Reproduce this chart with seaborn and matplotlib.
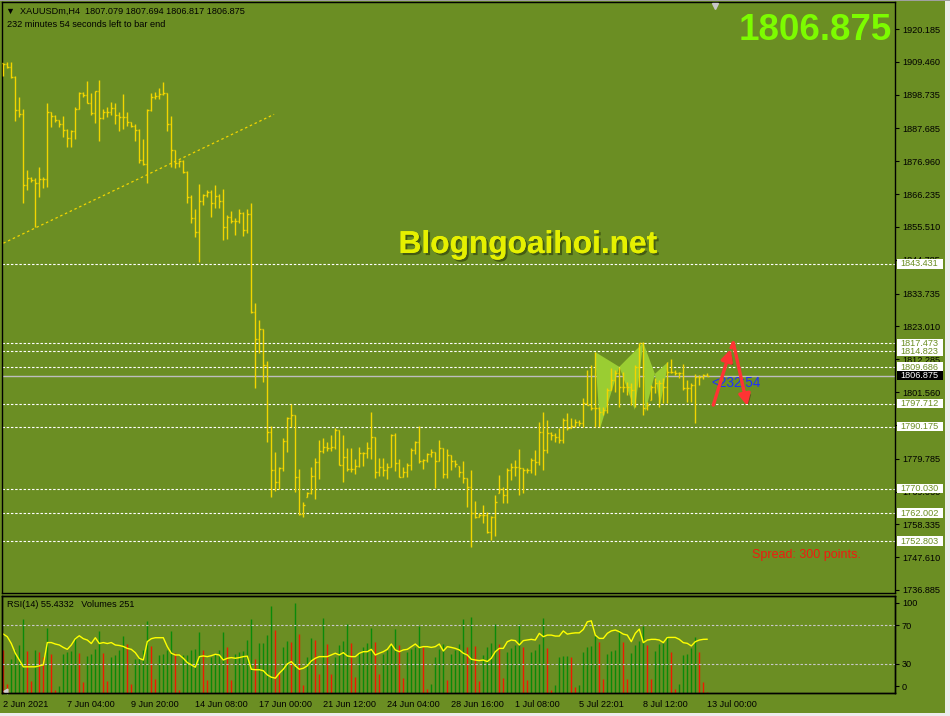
import matplotlib
matplotlib.use("Agg")
import matplotlib.pyplot as plt
import matplotlib.transforms as mtransforms
import matplotlib.patheffects as pe
from matplotlib.patches import Polygon, Rectangle, FancyArrowPatch
import numpy as np
import seaborn as sns

# ---- bar data (H4 XAUUSD), one entry per bar ----
highs = [
    1909.2, 1909.4, 1909.4, 1904.8, 1898.1, 1893.9, 1874.1, 1871.9, 1871.4, 1875.2,
    1871.9, 1895.9, 1893.2, 1892.1, 1890.5, 1891.8, 1887.4, 1887.2, 1894.6, 1899.7,
    1899.7, 1903.2, 1899.2, 1900.0, 1903.5, 1893.9, 1894.8, 1896.4, 1895.9, 1893.2,
    1898.9, 1893.2, 1889.9, 1889.1, 1887.6, 1884.1, 1893.9, 1899.4, 1899.7, 1901.0,
    1902.9, 1899.4, 1891.8, 1880.6, 1877.4, 1877.4, 1873.8, 1865.9, 1861.4, 1869.5,
    1866.3, 1867.6, 1867.6, 1869.2, 1866.3, 1867.9, 1859.4, 1860.7, 1858.4, 1861.4,
    1860.4, 1861.4, 1863.3, 1830.7, 1825.1, 1822.2, 1811.7, 1790.5, 1782.0, 1777.1,
    1786.5, 1793.4, 1797.7, 1794.1, 1776.4, 1765.6, 1768.9, 1777.1, 1780.0, 1785.9,
    1786.5, 1785.2, 1787.5, 1789.8, 1789.2, 1787.5, 1783.3, 1783.3, 1779.7, 1783.6,
    1782.0, 1785.2, 1795.0, 1786.9, 1780.0, 1780.0, 1778.4, 1787.9, 1788.2, 1779.7,
    1777.1, 1778.4, 1783.3, 1785.6, 1790.5, 1779.7, 1781.6, 1783.0, 1782.0, 1785.9,
    1783.3, 1783.0, 1781.0, 1779.4, 1777.4, 1779.0, 1773.5, 1776.1, 1766.0, 1762.0,
    1764.7, 1762.4, 1761.1, 1767.9, 1774.5, 1770.5, 1776.7, 1778.4, 1779.4, 1783.0,
    1776.7, 1776.7, 1780.0, 1782.6, 1791.8, 1795.0, 1792.4, 1788.5, 1788.2, 1789.8,
    1793.1, 1794.7, 1793.1, 1792.8, 1792.4, 1799.6, 1808.8, 1810.4, 1814.6, 1796.7,
    1796.7, 1802.9, 1809.4, 1808.8, 1809.7, 1808.1, 1804.9, 1804.5, 1810.4, 1817.6,
    1817.9, 1798.3, 1803.9, 1806.2, 1805.5, 1806.2, 1811.4, 1812.4, 1808.8, 1808.1,
    1810.7, 1805.5, 1804.5, 1807.5, 1807.1, 1807.5, 1807.694,
]
lows = [
    1904.8, 1907.3, 1904.1, 1890.2, 1891.5, 1863.2, 1867.6, 1870.3, 1855.6, 1865.4,
    1868.1, 1868.7, 1888.1, 1889.9, 1888.3, 1884.8, 1881.5, 1881.7, 1884.1, 1893.9,
    1898.1, 1895.9, 1892.1, 1889.6, 1883.7, 1890.7, 1891.5, 1892.1, 1889.1, 1887.0,
    1887.6, 1888.5, 1888.1, 1883.7, 1876.3, 1875.8, 1869.8, 1893.5, 1897.2, 1897.3,
    1898.6, 1887.0, 1875.0, 1874.7, 1875.2, 1873.0, 1863.3, 1856.8, 1852.2, 1844.1,
    1862.7, 1865.3, 1858.8, 1861.7, 1861.7, 1851.2, 1851.6, 1856.8, 1852.9, 1856.8,
    1852.6, 1853.5, 1827.4, 1802.9, 1814.3, 1804.9, 1785.2, 1767.3, 1769.2, 1769.9,
    1775.8, 1782.0, 1790.1, 1768.9, 1761.4, 1760.7, 1767.3, 1768.2, 1766.6, 1773.2,
    1781.6, 1782.3, 1782.3, 1783.0, 1777.7, 1772.2, 1775.8, 1775.4, 1774.8, 1777.1,
    1777.4, 1780.0, 1779.7, 1773.5, 1774.1, 1774.1, 1773.2, 1777.1, 1775.8, 1773.8,
    1773.8, 1773.8, 1776.1, 1781.3, 1778.4, 1776.4, 1778.7, 1780.3, 1770.2, 1779.0,
    1773.5, 1773.5, 1776.1, 1777.1, 1773.8, 1771.8, 1764.0, 1750.9, 1760.4, 1760.7,
    1758.8, 1755.5, 1753.2, 1754.5, 1768.6, 1765.3, 1765.3, 1772.8, 1774.1, 1767.9,
    1768.6, 1775.1, 1775.1, 1774.5, 1777.7, 1776.1, 1781.6, 1785.9, 1785.2, 1784.9,
    1784.9, 1789.2, 1789.8, 1790.1, 1790.5, 1790.1, 1797.3, 1795.7, 1790.1, 1790.1,
    1794.1, 1794.7, 1802.2, 1801.6, 1796.7, 1801.6, 1800.6, 1797.3, 1796.7, 1803.2,
    1794.1, 1795.7, 1799.0, 1801.3, 1796.7, 1798.0, 1798.0, 1807.8, 1807.1, 1806.2,
    1802.2, 1798.3, 1798.3, 1791.5, 1803.9, 1805.8, 1806.817,
]
closes = [
    1908.8, 1907.7, 1904.6, 1893.7, 1892.4, 1869.2, 1871.4, 1870.9, 1869.8, 1871.1,
    1871.1, 1893.1, 1891.8, 1890.5, 1889.1, 1887.2, 1884.5, 1887.0, 1893.9, 1899.4,
    1898.6, 1895.9, 1892.6, 1899.8, 1891.0, 1893.2, 1893.2, 1894.3, 1892.0, 1891.3,
    1891.3, 1889.9, 1888.5, 1887.2, 1877.4, 1876.1, 1893.7, 1898.1, 1898.3, 1898.9,
    1899.2, 1889.1, 1880.6, 1876.3, 1877.2, 1873.6, 1865.3, 1858.4, 1853.9, 1864.0,
    1865.9, 1866.9, 1863.3, 1865.6, 1864.0, 1855.5, 1858.8, 1857.5, 1857.5, 1860.1,
    1854.5, 1859.7, 1827.7, 1818.9, 1822.2, 1810.4, 1788.5, 1776.1, 1772.2, 1776.7,
    1785.6, 1793.1, 1794.1, 1773.8, 1761.7, 1764.7, 1768.6, 1774.1, 1778.7, 1782.3,
    1783.6, 1783.3, 1783.6, 1789.2, 1777.7, 1780.3, 1776.4, 1776.4, 1777.4, 1781.6,
    1781.6, 1783.3, 1786.9, 1775.4, 1777.1, 1776.1, 1777.1, 1787.5, 1778.4, 1773.8,
    1775.4, 1777.7, 1782.6, 1785.2, 1779.0, 1779.4, 1781.3, 1782.0, 1779.0, 1783.3,
    1774.8, 1781.0, 1779.0, 1778.1, 1775.4, 1773.5, 1770.5, 1762.0, 1760.7, 1761.4,
    1761.4, 1755.8, 1760.7, 1765.6, 1769.9, 1767.9, 1776.1, 1777.1, 1777.1, 1776.7,
    1776.1, 1776.1, 1779.4, 1778.7, 1788.5, 1782.6, 1788.2, 1787.5, 1786.9, 1785.9,
    1792.4, 1789.8, 1790.5, 1791.8, 1791.5, 1798.0, 1797.3, 1796.3, 1796.3, 1795.0,
    1795.7, 1802.2, 1805.5, 1807.8, 1803.2, 1803.2, 1803.2, 1802.2, 1809.7, 1817.6,
    1796.3, 1797.3, 1803.2, 1804.5, 1804.5, 1803.2, 1808.1, 1808.1, 1807.8, 1807.8,
    1802.9, 1802.9, 1803.9, 1806.5, 1806.5, 1807.1, 1806.875,
]
first_open = 1909.0

volumes = [
    13000, 2800, 10300, 12800, 14300, 22400, 12500, 3600, 13000, 12300,
    10800, 19500, 11600, 1000, 2000, 11600, 12300, 12500, 17000, 12000,
    3300, 11000, 11800, 13300, 18800, 12000, 3600, 10800, 11500, 12800,
    17300, 14800, 2600, 10300, 10800, 13000, 21800, 14000, 4300, 11300,
    11600, 13000, 18800, 12000, 1000, 11300, 11500, 13000, 13300, 18500,
    12800, 3800, 10800, 11800, 12800, 18300, 13800, 4000, 11800, 12300,
    12500, 16000, 22300, 10300, 15000, 15200, 17500, 26200, 19100, 5800,
    13800, 15800, 15300, 27200, 17800, 2300, 10800, 16600, 16000, 5800,
    22500, 14800, 5800, 10800, 14500, 15600, 20800, 15000, 4800, 12300,
    13800, 15000, 19500, 15300, 5800, 11800, 13000, 14800, 19300, 14500,
    4600, 12300, 13300, 13800, 20100, 13800, 1300, 2600, 10800, 13300,
    14800, 3800, 11800, 12800, 14800, 22300, 13800, 22800, 14000, 3600,
    11300, 13800, 15000, 20800, 14800, 4600, 12300, 13500, 14500, 20800,
    13800, 4000, 12300, 12800, 14800, 22500, 13500, 1000, 2300, 10800,
    11100, 11200, 10900, 1800, 2300, 12300, 13800, 14100, 17300, 15300,
    4300, 11700, 12600, 12800, 19100, 15300, 4300, 12000, 14300, 15800,
    20300, 14300, 4300, 12600, 14800, 15000, 17300, 12300, 1100, 2600,
    11300, 11600, 13500, 17000, 12300, 3300, 251,
]

rsi = [
    60.8, 58.0, 51.0, 41.0, 34.0, 27.0, 27.0, 27.0, 27.0, 28.0,
    29.0, 52.0, 52.0, 50.5, 49.5, 47.0, 45.0, 49.5, 56.0, 59.0,
    56.0, 54.6, 51.0, 57.0, 51.0, 52.0, 51.0, 52.0, 49.5, 49.0,
    48.0, 46.0, 45.0, 41.6, 35.8, 34.0, 53.0, 56.0, 57.0, 57.0,
    57.0, 47.8, 41.0, 39.2, 39.2, 35.8, 31.4, 29.0, 26.6, 37.5,
    38.2, 37.5, 38.5, 39.9, 39.2, 34.0, 35.8, 36.5, 35.8, 36.5,
    37.5, 38.0, 24.5, 24.0, 24.0, 23.0, 18.7, 16.3, 15.3, 20.4,
    24.5, 30.0, 32.4, 28.0, 24.5, 25.5, 28.0, 33.0, 35.8, 37.5,
    37.5, 37.5, 39.2, 41.0, 39.2, 41.6, 38.2, 37.5, 37.5, 41.0,
    42.6, 42.6, 45.0, 39.2, 41.0, 42.6, 45.0, 50.5, 44.4, 42.6,
    44.4, 45.0, 47.8, 50.5, 46.8, 47.8, 47.8, 47.0, 47.8, 50.5,
    43.3, 47.8, 47.0, 46.0, 44.4, 41.0, 39.2, 34.8, 34.0, 33.4,
    34.0, 32.4, 35.8, 42.6, 46.0, 46.0, 52.9, 54.6, 54.0, 49.5,
    54.0, 54.6, 55.3, 54.6, 61.5, 58.0, 59.7, 59.7, 58.7, 58.7,
    64.0, 60.7, 61.5, 62.0, 62.0, 65.5, 73.4, 74.4, 59.7, 56.3,
    56.3, 61.5, 64.0, 64.9, 63.2, 60.7, 59.7, 52.9, 61.5, 65.9,
    51.9, 54.6, 55.3, 55.3, 54.6, 51.9, 57.3, 57.3, 57.3, 55.3,
    51.9, 51.2, 48.5, 52.9, 54.6, 55.3, 55.4332,
]

time_ticks = [0, 16, 32, 48, 64, 80, 96, 112, 128, 144, 160, 176]
time_labels = ["2 Jun 2021", "7 Jun 04:00", "9 Jun 20:00", "14 Jun 08:00",
               "17 Jun 00:00", "21 Jun 12:00", "24 Jun 04:00", "28 Jun 16:00",
               "1 Jul 08:00", "5 Jul 22:01", "8 Jul 12:00", "13 Jul 00:00"]

price_ticks = [1920.185, 1909.460, 1898.735, 1887.685, 1876.960, 1866.235,
               1855.510, 1844.785, 1833.735, 1823.010, 1812.285, 1801.560,
               1790.835, 1779.785, 1769.060, 1758.335, 1747.610, 1736.885]
levels = [1843.431, 1817.473, 1814.823, 1809.686, 1797.712, 1790.175,
          1770.030, 1762.002, 1752.803]
bid = 1806.875

trend_x = [0.0, 67.7]
trend_y = [1850.2, 1892.3]

pattern_shapes = [
    [(147.9, 1814.7), (154.0, 1809.8), (149.2, 1789.7)],
    [(154.0, 1809.8), (160.0, 1817.7), (157.9, 1795.7)],
    [(160.0, 1817.7), (162.9, 1807.5), (160.5, 1795.0)],
    [(162.9, 1807.5), (166.3, 1811.5), (164.2, 1797.3)],
]
arrow_up = [(177.5, 1797.3), (181.85, 1815.6)]
arrow_apex = (182.5, 1817.7)
arrow_down_end = (186.0, 1797.0)

BG = "#6B8E23"
BAR = "#F2D500"
W, H = 950, 716

sns.set_style("white")
plt.rcParams["font.family"] = ["Liberation Sans", "DejaVu Sans"]


def rect(l, t, r, b):
    return [l / W, 1 - b / H, (r - l) / W, (b - t) / H]


fig = plt.figure(figsize=(W / 100, H / 100), dpi=100, facecolor=BG)
ax = fig.add_axes(rect(2, 2, 895, 593))
ax_vol = fig.add_axes(rect(2, 596, 895, 693))
ax_rsi = fig.add_axes(rect(2, 596, 895, 693))

XL = (-0.325, 222.925)
for a in (ax, ax_vol, ax_rsi):
    a.set_facecolor(BG)
    a.set_xlim(*XL)
    for s in a.spines.values():
        s.set_color("black")
        s.set_linewidth(1.0)
ax_rsi.patch.set_visible(False)

idx = np.arange(len(closes))
closes_a = np.array(closes)
lows_a = np.array(lows)
highs_a = np.array(highs)
opens = np.clip(np.concatenate([[first_open], closes_a[:-1]]), lows_a, highs_a)

# ---- main price panel ----
ax.set_ylim(1735.90, 1929.01)

for lv in levels:
    ax.axhline(lv, color="white", lw=0.8, ls=(0, (2.2, 1.6)), zorder=1)
ax.axhline(bid, color="#BEBEBE", lw=1.0, zorder=2)

for shape in pattern_shapes:
    ax.add_patch(Polygon(shape, closed=True, fc="#9ACD32", ec="none", zorder=2))

ax.plot(trend_x, trend_y, color=BAR, lw=0.9, ls=(0, (2, 2.2)), zorder=2)

ax.vlines(idx, lows_a, highs_a, color=BAR, lw=1.0, zorder=3)
ax.hlines(closes_a, idx, idx + 0.38, color=BAR, lw=1.0, zorder=3)
ax.hlines(opens, idx - 0.38, idx, color=BAR, lw=1.0, zorder=3)

ax.set_xticks([])
ax.yaxis.tick_right()
ax.set_yticks(price_ticks)
ax.set_yticklabels([f"{v:.3f}" for v in price_ticks])
ax.tick_params(axis="y", direction="out", length=3, width=0.8, pad=2,
               labelsize=6.6, colors="black")

# white price boxes for horizontal levels (they cover the axis labels below them)
box_tr = mtransforms.blended_transform_factory(ax.transAxes, ax.transData)
px_x = 1.0 / 893
px_y = (1929.01 - 1735.90) / 591
for lv in levels:
    ax.add_patch(Rectangle((1 + 2 * px_x, lv - 4.6 * px_y), 46 * px_x, 9.4 * px_y,
                           transform=box_tr, fc="white", ec="none",
                           clip_on=False, zorder=5))
    ax.text(1 + 5 * px_x, lv, f"{lv:.3f}", transform=box_tr, fontsize=6.6,
            color=BG, va="center", ha="left", clip_on=False, zorder=6)
ax.add_patch(Rectangle((1 + 2 * px_x, bid - 4.6 * px_y), 46 * px_x, 9.4 * px_y,
                       transform=box_tr, fc="black", ec="none",
                       clip_on=False, zorder=5))
ax.text(1 + 5 * px_x, bid, f"{bid:.3f}", transform=box_tr, fontsize=6.6,
        color="white", va="center", ha="left", clip_on=False, zorder=6)

# arrows and labels on the right
ax.text(177.0, 1804.5, "<232:54", color="#1F2FFF", fontsize=9.8, va="center",
        ha="left", zorder=6)
shadow = [pe.withSimplePatchShadow(offset=(1.5, -1.5), alpha=0.45)]
a1 = FancyArrowPatch(arrow_up[0], arrow_up[1], arrowstyle="-|>",
                     mutation_scale=17, color="#FF3333", lw=2.4, zorder=7,
                     shrinkA=0, shrinkB=0, path_effects=shadow)
ax.add_patch(a1)
ax.plot([arrow_up[1][0], arrow_apex[0]], [arrow_up[1][1], arrow_apex[1]],
        color="#FF3333", lw=2.4, zorder=7, solid_capstyle="butt")
a2 = FancyArrowPatch(arrow_apex, arrow_down_end, arrowstyle="-|>",
                     mutation_scale=17, color="#FF3333", lw=2.4, zorder=7,
                     shrinkA=0, shrinkB=0, path_effects=shadow)
ax.add_patch(a2)

ax.text(187.3, 1748.3, "Spread: 300 points.", color="#F01A10", fontsize=9.0,
        va="center", ha="left", zorder=6)

# chart shift marker at top
ax.plot([177.9], [0.993], marker="v", ms=5, color="#C8C8C8",
        transform=ax.get_xaxis_transform(), clip_on=False, zorder=6)

# ---- volume + RSI panel ----
vol_a = np.array(volumes)
vol_colors = ["#EE1A00"] + ["#0A8A0A" if vol_a[i] > vol_a[i - 1] else "#EE1A00"
                            for i in range(1, len(vol_a))]
ax_vol.vlines(idx, 0, vol_a, colors=vol_colors, lw=1.0)
ax_vol.set_ylim(0, 29200)
ax_vol.set_yticks([])
ax_vol.set_xticks(time_ticks)
ax_vol.set_xticklabels(time_labels)
ax_vol.tick_params(axis="x", direction="out", length=4, width=0.8, pad=1,
                   labelsize=6.6, colors="black")
for t in ax_vol.get_xticklabels():
    t.set_horizontalalignment("left")

ax_rsi.set_ylim(0, 100)
for lv in (70, 30):
    ax_rsi.axhline(lv, color="#C8C8C8", lw=0.8, ls=(0, (2.2, 1.6)))
sns.lineplot(x=idx, y=rsi, ax=ax_rsi, color="#FFFF00", lw=1.0,
             estimator=None, sort=False, legend=False)
ax_rsi.set_xlim(*XL)
ax_rsi.set_xlabel("")
ax_rsi.set_ylabel("")
ax_rsi.set_xticks([])
ax_rsi.yaxis.tick_right()
ax_rsi.set_yticks([92.9, 70, 30, 6.8])
ax_rsi.set_yticklabels(["100", "70", "30", "0"])
ax_rsi.tick_params(axis="y", direction="out", length=3, width=0.8, pad=2,
                   labelsize=6.6, colors="black")
ax_rsi.plot([0.6], [2.5], marker=(3, 0, 90), ms=4, color="#D0D0D0", clip_on=False)

ax_rsi.text(0.006, 0.915, "RSI(14) 55.4332   Volumes 251", transform=ax_rsi.transAxes,
            fontsize=6.6, color="black", va="center", ha="left")

# ---- overlay texts ----
fig.text(6 / W, 1 - 11.5 / H, "\u25bc  XAUUSDm,H4  1807.079 1807.694 1806.817 1806.875",
         fontsize=6.6, color="black", va="center", ha="left")
fig.text(7 / W, 1 - 24.5 / H, "232 minutes 54 seconds left to bar end",
         fontsize=6.6, color="black", va="center", ha="left")

fig.text(892 / W, 1 - 40 / H, "1806.875", fontsize=26.5, fontweight="bold",
         color="#7CFC00", ha="right", va="baseline")

fig.text(528 / W, 1 - 253 / H, "Blogngoaihoi.net", fontsize=22.8,
         fontweight="bold", color="#E6F000", ha="center", va="baseline",
         path_effects=[pe.withSimplePatchShadow(offset=(1.5, -1.5),
                                                shadow_rgbFace="#2a3a08", alpha=0.6),
                       pe.Normal()])

# window edges
fig.patches.append(Rectangle((945 / W, 0), 5 / W, 1, transform=fig.transFigure,
                             fc="#ECECEC", ec="none", zorder=0))
fig.patches.append(Rectangle((0, 0), 1, 3 / H, transform=fig.transFigure,
                             fc="#ECECEC", ec="none", zorder=0))
fig.patches.append(Rectangle((0, 1 - 1.2 / H), 1, 1.2 / H, transform=fig.transFigure,
                             fc="#A0A0A0", ec="none", zorder=0))

fig.savefig("out.png", dpi=100, facecolor=BG)
